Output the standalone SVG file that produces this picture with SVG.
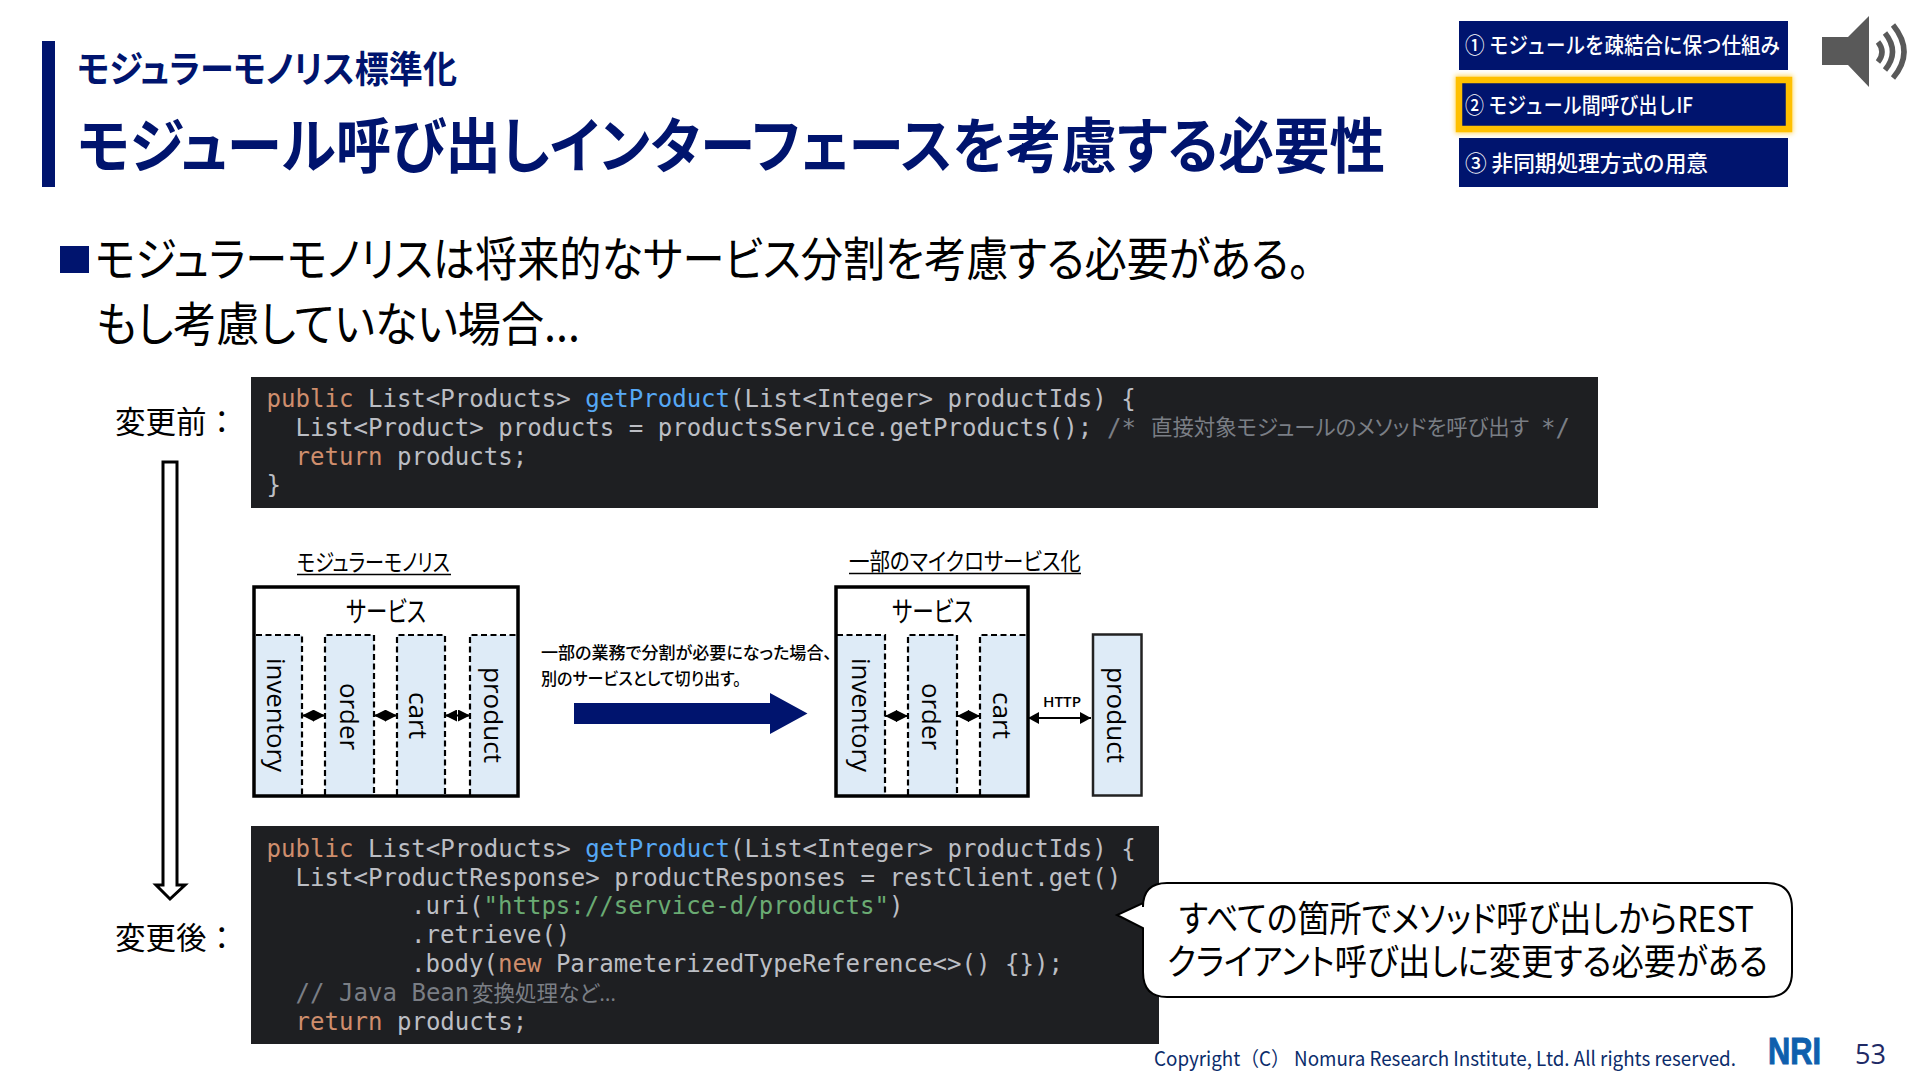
<svg xmlns="http://www.w3.org/2000/svg" width="1920" height="1080" viewBox="0 0 1920 1080">
<style>
text{font-family:"Noto Sans CJK JP","Noto Sans",sans-serif;font-feature-settings:"palt";fill:#000}
.navy{fill:#00146E}
.h{font-weight:700;fill:#00146E}
.tab{fill:#fff;font-size:22px;font-weight:500;font-feature-settings:normal}
.code{font-family:"DejaVu Sans Mono","Liberation Mono",monospace;font-size:24.07px;fill:#BCBEC4;font-feature-settings:normal;white-space:pre}
.cj{font-size:22px;fill:#7A7E85}
.k{fill:#CF8E6D}.m{fill:#56A8F5}.s{fill:#6AAB73}.c{fill:#7A7E85}
.col{fill:#DEEBF7;stroke:none}
.dash{fill:none;stroke:#000;stroke-width:2.2;stroke-dasharray:6 3.5}
.box{fill:none;stroke:#000;stroke-width:3.5}
.v{font-family:"Open Sans","Noto Sans",sans-serif;font-size:26px;text-anchor:middle;font-feature-settings:normal}
.u{font-size:24px}
.ul{stroke:#000;stroke-width:1.5}
.lbl{font-size:31px;font-feature-settings:normal}
.sv{font-size:28px}
.cn{stroke:#000;stroke-width:2;fill:none;marker-start:url(#tri);marker-end:url(#tri)}
.dm{stroke:#000;stroke-width:2;fill:none;marker-start:url(#dia);marker-end:url(#dia)}
.wave{fill:none;stroke:#595959;stroke-width:5.5}
</style>
<defs>
<marker id="tri" viewBox="0 0 11 12" refX="11" refY="6" markerWidth="11" markerHeight="12" markerUnits="userSpaceOnUse" orient="auto-start-reverse"><path d="M0 0L11 6L0 12Z" fill="#000"/></marker>
<marker id="dia" viewBox="0 0 12 12" refX="12" refY="6" markerWidth="12" markerHeight="12" markerUnits="userSpaceOnUse" orient="auto-start-reverse"><path d="M0 0L12 6L0 12Z" fill="#000"/></marker>
<filter id="glow" x="-10%" y="-30%" width="120%" height="160%"><feGaussianBlur stdDeviation="2.5"/></filter>
</defs>

<g id="title">
<rect x="42" y="41" width="13" height="146" class="navy"/>
<text x="77" y="83" class="h" font-size="37" textLength="380" lengthAdjust="spacingAndGlyphs">モジュラーモノリス標準化</text>
<text x="77" y="168" class="h" font-size="60" textLength="1308" lengthAdjust="spacingAndGlyphs">モジュール呼び出しインターフェースを考慮する必要性</text>
</g>

<g id="nav">
<rect x="1459" y="21" width="329" height="49" class="navy"/>
<rect x="1459" y="79.5" width="330" height="50" fill="none" stroke="#FFC000" stroke-width="8" opacity=".6" filter="url(#glow)"/>
<rect x="1462" y="83" width="324" height="43" class="navy"/>
<rect x="1459" y="80" width="330" height="49" fill="none" stroke="#FFC000" stroke-width="6.5"/>
<rect x="1459" y="138" width="329" height="49" class="navy"/>
<text x="1465" y="53" class="tab" textLength="315" lengthAdjust="spacingAndGlyphs">① モジュールを疎結合に保つ仕組み</text>
<text x="1465" y="113" class="tab" textLength="228" lengthAdjust="spacingAndGlyphs">② モジュール間呼び出しIF</text>
<text x="1465" y="171" class="tab" textLength="243" lengthAdjust="spacingAndGlyphs">③ 非同期処理方式の用意</text>
</g>

<g id="speaker">
<path d="M1822 37H1848L1869 16V87L1848 65H1822Z" fill="#595959"/>
<path class="wave" d="M1878 42Q1886 52 1878 62"/>
<path class="wave" d="M1885 33Q1900 52 1885 70"/>
<path class="wave" d="M1893 25Q1915 52 1893 78"/>
</g>

<g id="lead">
<rect x="60" y="246" width="29" height="27" class="navy"/>
<text x="95" y="276" font-size="47" textLength="1215" lengthAdjust="spacingAndGlyphs">モジュラーモノリスは将来的なサービス分割を考慮する必要がある。</text>
<text x="96" y="341" font-size="47" textLength="484" lengthAdjust="spacingAndGlyphs">もし考慮していない場合...</text>
</g>

<g id="label-before"><text x="115" y="433" class="lbl" textLength="122" lengthAdjust="spacingAndGlyphs">変更前：</text></g>
<g id="label-after"><text x="115" y="949" class="lbl" textLength="122" lengthAdjust="spacingAndGlyphs">変更後：</text></g>

<g id="code-before">
<rect x="251" y="377" width="1347" height="131" fill="#1E1F22"/>
<text x="266.500" y="406.500" class="code"><tspan class="k">public</tspan> List&lt;Products&gt; <tspan class="m">getProduct</tspan>(List&lt;Integer&gt; productIds) {</text>
<text x="295.500" y="435.500" class="code">List&lt;Product&gt; products = productsService.getProducts();</text>
<text x="1107" y="435.500" class="code c">/*</text>
<text x="1151" y="435" class="cj" textLength="378" lengthAdjust="spacingAndGlyphs">直接対象モジュールのメソッドを呼び出す</text>
<text x="1541" y="435.500" class="code c">*/</text>
<text x="295.500" y="464.500" class="code"><tspan class="k">return</tspan> products;</text>
<text x="266.500" y="493" class="code">}</text>
</g>

<g id="code-after">
<rect x="251" y="826" width="908" height="218" fill="#1E1F22"/>
<text x="266.500" y="857" class="code"><tspan class="k">public</tspan> List&lt;Products&gt; <tspan class="m">getProduct</tspan>(List&lt;Integer&gt; productIds) {</text>
<text x="295.500" y="886" class="code">List&lt;ProductResponse&gt; productResponses = restClient.get()</text>
<text x="411" y="914" class="code">.uri(<tspan class="s">"https://service-d/products"</tspan>)</text>
<text x="411" y="943" class="code">.retrieve()</text>
<text x="411" y="972" class="code">.body(<tspan class="k">new</tspan> ParameterizedTypeReference&lt;&gt;() {});</text>
<text x="295.500" y="1001" class="code c">// Java Bean</text>
<text x="472" y="1001" class="cj" textLength="144" lengthAdjust="spacingAndGlyphs">変換処理など<tspan style="font-family:'Open Sans',sans-serif">…</tspan></text>
<text x="295.500" y="1030" class="code"><tspan class="k">return</tspan> products;</text>
</g>

<g id="callout">
<path d="M1167 883H1767Q1792 883 1792 908V972Q1792 997 1767 997H1167Q1143 997 1143 972V928L1117 915L1143 903V907Q1143 883 1167 883Z" fill="#fff" stroke="#000" stroke-width="2"/>
<text x="1179" y="932" font-size="36" textLength="575" lengthAdjust="spacingAndGlyphs">すべての箇所でメソッド呼び出しからREST</text>
<text x="1167" y="975" font-size="36" textLength="601" lengthAdjust="spacingAndGlyphs">クライアント呼び出しに変更する必要がある</text>
</g>

<g id="monolith">
<text x="297" y="571" class="u" textLength="153" lengthAdjust="spacingAndGlyphs">モジュラーモノリス</text>
<line x1="297" y1="574.5" x2="451" y2="574.5" class="ul"/>
<rect x="254" y="587" width="264" height="209" fill="#fff"/>
<rect x="256" y="635" width="46" height="160" class="col"/>
<rect x="325" y="635" width="49" height="160" class="col"/>
<rect x="397" y="635" width="48" height="160" class="col"/>
<rect x="470" y="635" width="46" height="160" class="col"/>
<path class="dash" d="M256 635H302V795M325 795V635H374V795M397 795V635H445V795M470 795V635H516"/>
<rect x="254" y="587" width="264" height="209" class="box"/>
<text x="346" y="622" class="sv" textLength="80" lengthAdjust="spacingAndGlyphs">サービス</text>
<text class="v" transform="translate(267 715) rotate(90)" textLength="114" lengthAdjust="spacingAndGlyphs">inventory</text>
<text class="v" transform="translate(340 716.5) rotate(90)" textLength="67" lengthAdjust="spacingAndGlyphs">order</text>
<text class="v" transform="translate(409 715.5) rotate(90)" textLength="47" lengthAdjust="spacingAndGlyphs">cart</text>
<text class="v" transform="translate(484 715) rotate(90)" textLength="96" lengthAdjust="spacingAndGlyphs">product</text>
</g>

<g id="transition">
<text x="541" y="659" font-size="17" font-weight="500" textLength="291" lengthAdjust="spacingAndGlyphs">一部の業務で分割が必要になった場合、</text>
<text x="541" y="685" font-size="17" font-weight="500" textLength="200" lengthAdjust="spacingAndGlyphs">別のサービスとして切り出す。</text>
<path d="M574 703H770V693L807.5 713.5L770 734V724H574Z" class="navy"/>
</g>

<g id="microservice">
<text x="849" y="570" class="u" textLength="232" lengthAdjust="spacingAndGlyphs">一部のマイクロサービス化</text>
<line x1="849" y1="573.5" x2="1081" y2="573.5" class="ul"/>
<rect x="836" y="587" width="192" height="209" fill="#fff"/>
<rect x="837" y="635" width="48" height="160" class="col"/>
<rect x="908" y="635" width="49" height="160" class="col"/>
<rect x="980" y="635" width="46" height="160" class="col"/>
<path class="dash" d="M837 635H885V795M908 795V635H957V795M980 795V635H1026"/>
<rect x="836" y="587" width="192" height="209" class="box"/>
<text x="892" y="622" class="sv" textLength="81" lengthAdjust="spacingAndGlyphs">サービス</text>
<text class="v" transform="translate(852 715) rotate(90)" textLength="114" lengthAdjust="spacingAndGlyphs">inventory</text>
<text class="v" transform="translate(922 716.5) rotate(90)" textLength="67" lengthAdjust="spacingAndGlyphs">order</text>
<text class="v" transform="translate(993 715.5) rotate(90)" textLength="47" lengthAdjust="spacingAndGlyphs">cart</text>
</g>

<g id="product-service">
<rect x="1093" y="634.5" width="48.500" height="161" fill="#DEEBF7" stroke="#222" stroke-width="2.5"/>
<text class="v" transform="translate(1107 715) rotate(90)" textLength="96" lengthAdjust="spacingAndGlyphs">product</text>
</g>

<g id="connectors">
<path class="dm" d="M302 715.5H325"/>
<path class="dm" d="M374 715.5H397"/>
<path class="dm" d="M445 715.5H470"/>
<path class="dm" d="M885 716H908"/>
<path class="dm" d="M957 716H980"/>
<path class="cn" d="M1028 718H1091"/>
<path d="M163 462H177V885H185L170 899L156 885H163Z" fill="#fff" stroke="#000" stroke-width="3"/>
</g>
<text x="1043" y="707" font-size="15" font-weight="600" textLength="38" lengthAdjust="spacingAndGlyphs" style="font-family:'Open Sans','Noto Sans',sans-serif">HTTP</text>

<g id="footer">
<text x="1154" y="1066" font-size="20" style="fill:#0B2C6B;font-feature-settings:normal" textLength="582" lengthAdjust="spacingAndGlyphs">Copyright（C）  Nomura Research Institute, Ltd. All rights reserved.</text>
<text x="1768" y="1064" font-size="36" font-weight="700" style="fill:#0F5FAD;stroke:#0F5FAD;stroke-width:1;font-family:'Liberation Sans',sans-serif" textLength="53" lengthAdjust="spacingAndGlyphs">NRI</text>
<text x="1855" y="1064" font-size="28" style="fill:#1F2A66;font-family:'Open Sans','Noto Sans',sans-serif" textLength="31" lengthAdjust="spacingAndGlyphs">53</text>
</g>
</svg>
